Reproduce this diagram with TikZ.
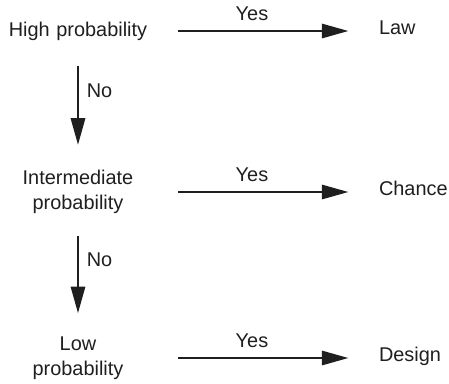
\documentclass[tikz,border=0pt]{standalone}
\usepackage{fontspec}
\setmainfont{Liberation Sans}
\usetikzlibrary{arrows.meta}

\begin{document}
\begin{tikzpicture}[x=1pt,y=-1pt,font=\fontsize{19.9}{25}\selectfont,
  >={Triangle[length=26.5pt,width=14.5pt]},color=black!88,
  lft/.style={text width=140pt,align=center,inner sep=0pt},
  rgt/.style={text width=75pt,align=left,inner sep=0pt,text height=.716em,text depth=0pt},
  lbl/.style={inner sep=0pt,text height=.716em,text depth=0pt},
  arr/.style={->,line width=1.5pt}]
  \useasboundingbox (0,0) rectangle (449,383);
  \node[lft] (hi) at (78,31) {High probability};
  \node[lft] (im) at (78,192) {Intermediate\\probability};
  \node[lft] (lo) at (78,358) {Low\\probability};
  \node[rgt] (law) at (416.5,31) {Law};
  \node[rgt] (ch) at (416.5,192) {Chance};
  \node[rgt] (des) at (416.5,358) {Design};
  \draw[arr,shorten <=30pt,shorten >=30.5pt] (hi) -- node[lbl,above=9.5pt,pos=.45] {Yes} (law);
  \draw[arr,shorten <=30pt,shorten >=30.5pt] (im) -- node[lbl,above=9.5pt,pos=.45] {Yes} (ch);
  \draw[arr,shorten <=30pt,shorten >=30.5pt] (lo) -- node[lbl,above=9.5pt,pos=.45] {Yes} (des);
  \draw[arr,shorten <=25.8pt,shorten >=25.3pt] (hi) -- node[lbl,right=8pt,pos=.41] {No} (im);
  \draw[arr,shorten <=22.3pt,shorten >=23.3pt] (im) -- node[lbl,right=8pt,pos=.40] {No} (lo);
\end{tikzpicture}
\end{document}
